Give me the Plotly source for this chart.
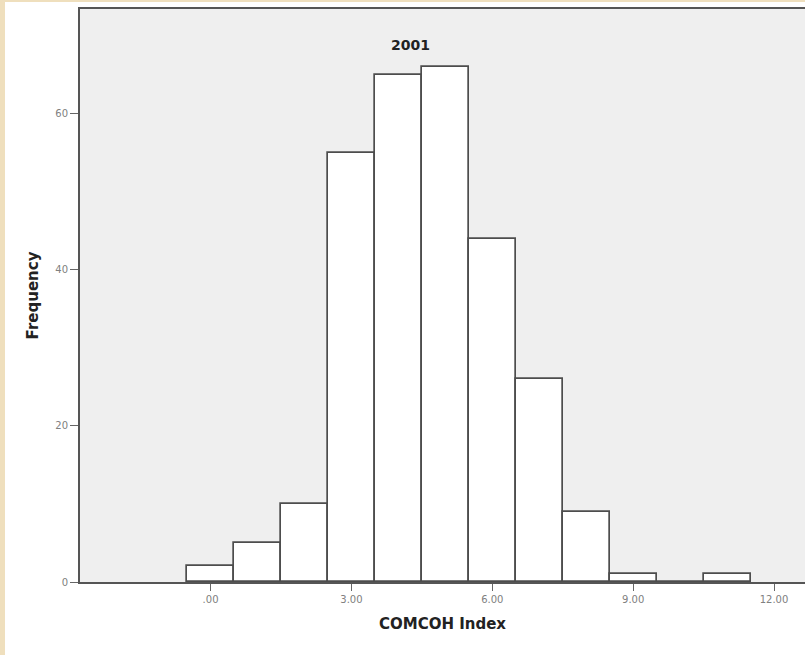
import plotly.graph_objects as go

bin_centers = [0, 1, 2, 3, 4, 5, 6, 7, 8, 9, 10, 11]
frequencies = [2, 5, 10, 55, 65, 66, 44, 26, 9, 1, 0, 1]
x_tick_vals = [0, 3, 6, 9, 12]
x_tick_text = [".00", "3.00", "6.00", "9.00", "12.00"]
y_tick_vals = [0, 20, 40, 60]

W, H = 805, 655
ML, MR, MT, MB = 80, 0, 9, 73
pw = W - ML - MR
ph = H - MT - MB

fig = go.Figure()
fig.add_trace(go.Bar(
    x=bin_centers, y=frequencies, width=1,
    marker=dict(color="white", line=dict(color="#4d4d4d", width=1.7)),
    showlegend=False,
))

title_font = dict(family="DejaVu Sans, sans-serif", size=15, color="#222222", weight="bold")
tick_font = dict(family="DejaVu Sans, sans-serif", size=10, color="#808080")

fig.update_layout(
    width=W, height=H,
    margin=dict(l=ML, r=MR, t=MT, b=MB),
    paper_bgcolor="white",
    plot_bgcolor="#efefef",
    bargap=0,
    xaxis=dict(
        range=[-2.78, 12.66], tickvals=x_tick_vals, ticktext=x_tick_text,
        showgrid=False, zeroline=False, showline=True, linecolor="#555555", linewidth=2,
        mirror=True, ticks="outside", ticklen=7, tickcolor="#666666",
        tickfont=tick_font,
        title=dict(text="COMCOH Index", font=title_font, standoff=14),
    ),
    yaxis=dict(
        range=[0, 73.4], tickvals=y_tick_vals,
        showgrid=False, zeroline=False, showline=True, linecolor="#555555", linewidth=2,
        ticks="outside", ticklen=8, tickcolor="#666666",
        tickfont=tick_font,
        title=dict(text="Frequency", font=title_font, standoff=13),
    ),
    annotations=[dict(
        text="2001", x=(410 - ML) / pw, y=(H - MB - 45.5) / ph,
        xref="paper", yref="paper", xanchor="center", yanchor="middle", showarrow=False,
        font=dict(family="DejaVu Sans, sans-serif", size=14, color="#222222", weight="bold"),
    )],
)

# beige frame strips of the original picture
fig.add_shape(type="rect", xref="paper", yref="paper",
              x0=-ML / pw, x1=(5 - ML) / pw, y0=-MB / ph, y1=1 + MT / ph,
              fillcolor="#efdfbd", line=dict(width=0), layer="above")
fig.add_shape(type="rect", xref="paper", yref="paper",
              x0=-ML / pw, x1=1, y0=1 + (MT - 2) / ph, y1=1 + MT / ph,
              fillcolor="#efdfbd", line=dict(width=0), layer="above")

fig.write_html(
    "out.html",
    config={"displayModeBar": False},
    post_script="document.body.style.margin='0';document.body.style.overflow='hidden';",
)
